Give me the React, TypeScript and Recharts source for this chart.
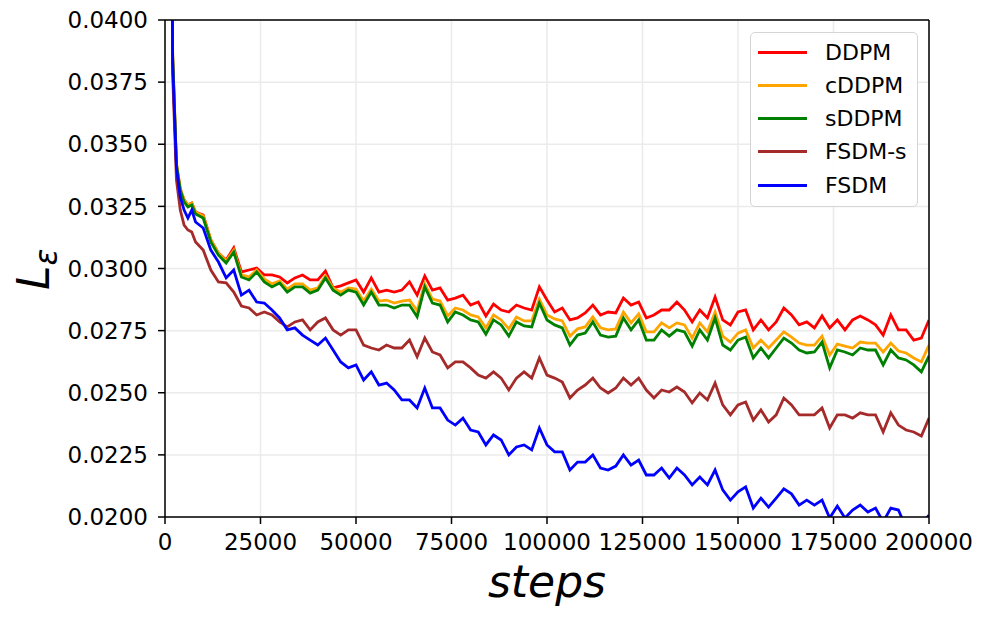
import React from "react";
import {
  LineChart,
  Line,
  XAxis,
  YAxis,
  CartesianGrid,
  ReferenceLine,
  Label
} from "recharts";

// training steps (x categories)
const steps = [
  1000, 2000, 3000, 4000, 5000, 6000, 7000, 8000,
  10000, 12000, 14000, 16000, 18000, 20000, 22000, 24000, 26000, 28000,
  30000, 32000, 34000, 36000, 38000, 40000, 42000, 44000, 46000, 48000,
  50000, 52000, 54000, 56000, 58000, 60000, 62000, 64000, 66000, 68000,
  70000, 72000, 74000, 76000, 78000, 80000, 82000, 84000, 86000, 88000,
  90000, 92000, 94000, 96000, 98000, 100000, 102000, 104000, 106000, 108000,
  110000, 112000, 114000, 116000, 118000, 120000, 122000, 124000, 126000, 128000,
  130000, 132000, 134000, 136000, 138000, 140000, 142000, 144000, 146000, 148000,
  150000, 152000, 154000, 156000, 158000, 160000, 162000, 164000, 166000, 168000,
  170000, 172000, 174000, 176000, 178000, 180000, 182000, 184000, 186000, 188000,
  190000, 192000, 194000, 196000, 198000, 200000
];

const ddpm = [
  0.0700, 0.0385, 0.03417, 0.03316, 0.03276, 0.03256, 0.03264, 0.03227,
  0.03215, 0.03115, 0.03062, 0.03034, 0.03083, 0.02986, 0.02994, 0.03002, 0.02974, 0.02974,
  0.02966, 0.02942, 0.02962, 0.02974, 0.02954, 0.02954, 0.02990, 0.02922, 0.02930, 0.02942,
  0.02954, 0.02905, 0.02962, 0.02905, 0.02913, 0.02905, 0.02913, 0.02946, 0.02893, 0.02970,
  0.02913, 0.02922, 0.02873, 0.02881, 0.02893, 0.02853, 0.02865, 0.02809, 0.02857, 0.02833,
  0.02825, 0.02853, 0.02841, 0.02833, 0.02926, 0.02873, 0.02825, 0.02841, 0.02793, 0.02801,
  0.02821, 0.02853, 0.02813, 0.02825, 0.02821, 0.02881, 0.02853, 0.02865, 0.02801, 0.02813,
  0.02833, 0.02833, 0.02865, 0.02833, 0.02785, 0.02833, 0.02801, 0.02885, 0.02793, 0.02773,
  0.02825, 0.02833, 0.02753, 0.02793, 0.02753, 0.02785, 0.02841, 0.02813, 0.02773, 0.02785,
  0.02761, 0.02809, 0.02761, 0.02793, 0.02753, 0.02793, 0.02809, 0.02793, 0.02773, 0.02732,
  0.02813, 0.02753, 0.02753, 0.02712, 0.02720, 0.02793
];

const cddpm = [
  0.0700, 0.0387, 0.03425, 0.03324, 0.03276, 0.03256, 0.03264, 0.03227,
  0.03211, 0.03115, 0.03062, 0.03030, 0.03074, 0.02974, 0.02966, 0.02994, 0.02958, 0.02938,
  0.02950, 0.02917, 0.02938, 0.02938, 0.02913, 0.02922, 0.02970, 0.02922, 0.02905, 0.02922,
  0.02917, 0.02869, 0.02917, 0.02869, 0.02873, 0.02861, 0.02869, 0.02873, 0.02830, 0.02938,
  0.02877, 0.02869, 0.02809, 0.02841, 0.02833, 0.02813, 0.02805, 0.02761, 0.02813, 0.02793,
  0.02757, 0.02805, 0.02789, 0.02789, 0.02877, 0.02813, 0.02797, 0.02789, 0.02728, 0.02757,
  0.02765, 0.02805, 0.02761, 0.02753, 0.02757, 0.02825, 0.02781, 0.02817, 0.02745, 0.02745,
  0.02781, 0.02761, 0.02781, 0.02773, 0.02720, 0.02781, 0.02745, 0.02825, 0.02728, 0.02704,
  0.02740, 0.02753, 0.02680, 0.02712, 0.02680, 0.02712, 0.02745, 0.02724, 0.02700, 0.02692,
  0.02692, 0.02728, 0.02652, 0.02696, 0.02688, 0.02680, 0.02704, 0.02700, 0.02700, 0.02664,
  0.02700, 0.02668, 0.02660, 0.02640, 0.02624, 0.02692
];

const sddpm = [
  0.0700, 0.0386, 0.03417, 0.03316, 0.03268, 0.03248, 0.03256, 0.03219,
  0.03203, 0.03107, 0.03054, 0.03022, 0.03066, 0.02966, 0.02954, 0.02986, 0.02946, 0.02926,
  0.02942, 0.02905, 0.02926, 0.02926, 0.02901, 0.02913, 0.02962, 0.02913, 0.02893, 0.02913,
  0.02905, 0.02853, 0.02905, 0.02853, 0.02853, 0.02841, 0.02853, 0.02853, 0.02806, 0.02926,
  0.02861, 0.02853, 0.02785, 0.02825, 0.02813, 0.02793, 0.02785, 0.02736, 0.02793, 0.02773,
  0.02728, 0.02785, 0.02769, 0.02765, 0.02861, 0.02793, 0.02773, 0.02761, 0.02692, 0.02732,
  0.02740, 0.02785, 0.02732, 0.02724, 0.02728, 0.02801, 0.02753, 0.02793, 0.02712, 0.02712,
  0.02753, 0.02728, 0.02753, 0.02745, 0.02688, 0.02753, 0.02712, 0.02801, 0.02692, 0.02672,
  0.02712, 0.02724, 0.02640, 0.02680, 0.02640, 0.02680, 0.02720, 0.02700, 0.02672, 0.02660,
  0.02664, 0.02704, 0.02600, 0.02672, 0.02664, 0.02652, 0.02680, 0.02672, 0.02672, 0.02612,
  0.02672, 0.02640, 0.02632, 0.02612, 0.02584, 0.02648
];

const fsdmS = [
  0.0700, 0.0378, 0.03356, 0.03235, 0.03175, 0.03155, 0.03147, 0.03107,
  0.03074, 0.02994, 0.02946, 0.02942, 0.02905, 0.02849, 0.02841, 0.02813, 0.02825, 0.02813,
  0.02785, 0.02765, 0.02785, 0.02793, 0.02753, 0.02785, 0.02801, 0.02753, 0.02732, 0.02753,
  0.02753, 0.02692, 0.02680, 0.02672, 0.02692, 0.02680, 0.02680, 0.02712, 0.02645, 0.02720,
  0.02664, 0.02652, 0.02600, 0.02624, 0.02624, 0.02600, 0.02571, 0.02559, 0.02584, 0.02559,
  0.02511, 0.02559, 0.02584, 0.02559, 0.02640, 0.02571, 0.02559, 0.02543, 0.02479, 0.02511,
  0.02531, 0.02559, 0.02519, 0.02499, 0.02519, 0.02559, 0.02531, 0.02559, 0.02511, 0.02479,
  0.02511, 0.02503, 0.02523, 0.02503, 0.02459, 0.02499, 0.02471, 0.02539, 0.02451, 0.02411,
  0.02451, 0.02463, 0.02390, 0.02431, 0.02382, 0.02411, 0.02479, 0.02451, 0.02411, 0.02411,
  0.02411, 0.02439, 0.02358, 0.02411, 0.02411, 0.02398, 0.02419, 0.02411, 0.02411, 0.02342,
  0.02419, 0.02370, 0.02350, 0.02342, 0.02326, 0.02398
];

const fsdm = [
  0.0700, 0.0383, 0.03404, 0.03288, 0.03235, 0.03203, 0.03235, 0.03187,
  0.03163, 0.03074, 0.03026, 0.02962, 0.02994, 0.02893, 0.02913, 0.02865, 0.02861, 0.02833,
  0.02801, 0.02753, 0.02761, 0.02732, 0.02712, 0.02692, 0.02720, 0.02672, 0.02624, 0.02600,
  0.02612, 0.02551, 0.02584, 0.02531, 0.02539, 0.02511, 0.02471, 0.02471, 0.02439, 0.02519,
  0.02439, 0.02439, 0.02390, 0.02370, 0.02398, 0.02350, 0.02342, 0.02290, 0.02330, 0.02310,
  0.02250, 0.02282, 0.02290, 0.02270, 0.02358, 0.02290, 0.02262, 0.02262, 0.02189, 0.02221,
  0.02221, 0.02250, 0.02197, 0.02189, 0.02205, 0.02250, 0.02209, 0.02229, 0.02169, 0.02169,
  0.02197, 0.02157, 0.02197, 0.02169, 0.02129, 0.02161, 0.02129, 0.02189, 0.02109, 0.02068,
  0.02101, 0.02121, 0.02036, 0.02076, 0.02040, 0.02076, 0.02113, 0.02093, 0.02048, 0.02068,
  0.02048, 0.02068, 0.01996, 0.02044, 0.01996, 0.02028, 0.02048, 0.02020, 0.02036, 0.01980,
  0.02036, 0.02028, 0.01956, 0.01948, 0.01968, 0.02008
];

const xTicks = [0, 25000, 50000, 75000, 100000, 125000, 150000, 175000, 200000];
const yTicks = [0.02, 0.0225, 0.025, 0.0275, 0.03, 0.0325, 0.035, 0.0375, 0.04];

const series = [
  { key: "DDPM", values: ddpm, color: "#ff0000" },
  { key: "cDDPM", values: cddpm, color: "#ffa500" },
  { key: "sDDPM", values: sddpm, color: "#008000" },
  { key: "FSDM-s", values: fsdmS, color: "#a52a2a" },
  { key: "FSDM", values: fsdm, color: "#0000ff" }
];

const data = steps.map((step, i) => {
  const row: Record<string, number> = { step };
  series.forEach((s) => {
    row[s.key] = s.values[i];
  });
  return row;
});

const FONT = "'DejaVu Sans', sans-serif";
const tickStyle = { fill: "#000", fontSize: 23, fontFamily: FONT };

const LegendBox = () => (
  <div
    style={{
      position: "absolute",
      left: 742,
      top: 24,
      width: 166,
      height: 173,
      border: "1.5px solid #d5d5d5",
      borderRadius: 5,
      background: "rgba(255,255,255,0.85)",
      fontFamily: FONT,
      fontSize: 22
    }}
  >
    {series.map((s, i) => (
      <div
        key={s.key}
        style={{
          position: "absolute",
          left: 0,
          top: 4 + i * 33.3,
          height: 30,
          display: "flex",
          alignItems: "center"
        }}
      >
        <div style={{ width: 49, height: 3, marginLeft: 7, background: s.color }} />
        <span style={{ marginLeft: 18, color: "#000", whiteSpace: "nowrap" }}>{s.key}</span>
      </div>
    ))}
  </div>
);

export default function App() {
  return (
    <div style={{ position: "relative", width: 973, height: 600, fontFamily: FONT }}>
      <LineChart
        width={973}
        height={600}
        data={data}
        margin={{ top: 12, right: 52, bottom: 31, left: 57 }}
      >
        <CartesianGrid stroke="#ebebeb" strokeWidth={1.5} />
        <XAxis
          dataKey="step"
          type="number"
          domain={[0, 200000]}
          ticks={xTicks}
          interval={0}
          height={60}
          tick={tickStyle}
          tickSize={7}
          tickMargin={10}
          tickLine={{ stroke: "#000", strokeWidth: 1.5 }}
          axisLine={{ stroke: "#000", strokeWidth: 1.5 }}
          allowDataOverflow
        >
          <Label
            content={(props: any) => {
              const vb = props.viewBox || {};
              return (
                <text
                  x={(vb.x || 157) + (vb.width || 764) / 2}
                  y={589}
                  textAnchor="middle"
                  fontFamily={FONT}
                  fontStyle="italic"
                  fontSize={44}
                  fill="#000"
                >
                  steps
                </text>
              );
            }}
          />
        </XAxis>
        <YAxis
          type="number"
          domain={[0.02, 0.04]}
          ticks={yTicks}
          interval={0}
          width={100}
          tick={tickStyle}
          tickFormatter={(v: number) => v.toFixed(4)}
          tickSize={7}
          tickMargin={10}
          tickLine={{ stroke: "#000", strokeWidth: 1.5 }}
          axisLine={{ stroke: "#000", strokeWidth: 1.5 }}
          allowDataOverflow
        >
          <Label
            content={() => (
              <text
                transform="translate(41, 282) rotate(-90)"
                fontFamily={FONT}
                fontStyle="italic"
                fontSize={44}
                fill="#000"
              >
                L
                <tspan fontSize={31} dy={8}>
                  ε
                </tspan>
              </text>
            )}
          />
        </YAxis>
        {series.map((s) => (
          <Line
            key={s.key}
            type="linear"
            dataKey={s.key}
            stroke={s.color}
            strokeWidth={2.8}
            dot={false}
            activeDot={false}
            isAnimationActive={false}
          />
        ))}
        <ReferenceLine y={0.04} stroke="#000" strokeWidth={1.5} />
        <ReferenceLine x={200000} stroke="#000" strokeWidth={1.5} />
      </LineChart>
      <LegendBox />
    </div>
  );
}
